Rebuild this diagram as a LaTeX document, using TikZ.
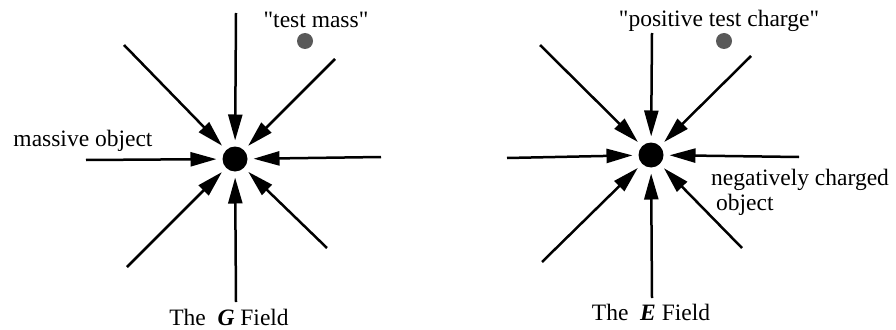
\documentclass[tikz,border=0pt]{standalone}
\usepackage{fontspec}
\setmainfont{Liberation Serif}
\usetikzlibrary{arrows.meta}

\begin{document}
\begin{tikzpicture}[x=1pt, y=-1pt, >={Triangle[length=26pt,width=14pt]},
    field/.style={->, line width=2.5pt, shorten >=6pt},
    body/.style={circle, fill=black, inner sep=0pt, outer sep=0pt, minimum size=25pt},
    probe/.style={circle, fill=gray!70!black, inner sep=0pt, minimum size=16pt},
    lbl/.style={inner sep=0pt, font=\fontsize{23.5}{28}\selectfont}]
    \useasboundingbox (0,0) rectangle (896,329);

    % gravitational field
    \node[body] (G) at (235,159) {};
    \node[probe] (mass) at (305,41) {};
    \foreach \name/\x/\y in {gt/236/13, gul/124/45, gur/335/59, gl/86/160,
                             gr/381/157, gll/127/267, gb/236/302, glr/327/248} {
        \coordinate (\name) at (\x,\y);
        \draw[field] (\name) -- (G);
    }
    \node[lbl, anchor=base] (masslabel) at (316,28) {\textquotedbl test mass\textquotedbl};
    \node[lbl, anchor=base] (objlabel) at (83,146) {massive object};
    \node[lbl, anchor=base] (gtitle) at (229,325) {The \ \textbf{\textit{G}} Field};

    % electric field
    \node[body] (E) at (651,155) {};
    \node[probe] (charge) at (724,41) {};
    \foreach \name/\x/\y in {et/652/33, eul/540/45, eur/751/56, el/507/158,
                             er/799/157, ell/542/262, eb/652/298, elr/742/248} {
        \coordinate (\name) at (\x,\y);
        \draw[field] (\name) -- (E);
    }
    \node[lbl, anchor=base] (chargelabel) at (719,27) {\textquotedbl positive test charge\textquotedbl};
    \node[lbl, anchor=base west] (neglabel) at (711,185) {negatively charged};
    \node[lbl, anchor=base west] (neglabelb) at (716,210) {object};
    \node[lbl, anchor=base] (etitle) at (651,320) {The \ \textbf{\textit{E}} Field};
\end{tikzpicture}
\end{document}
